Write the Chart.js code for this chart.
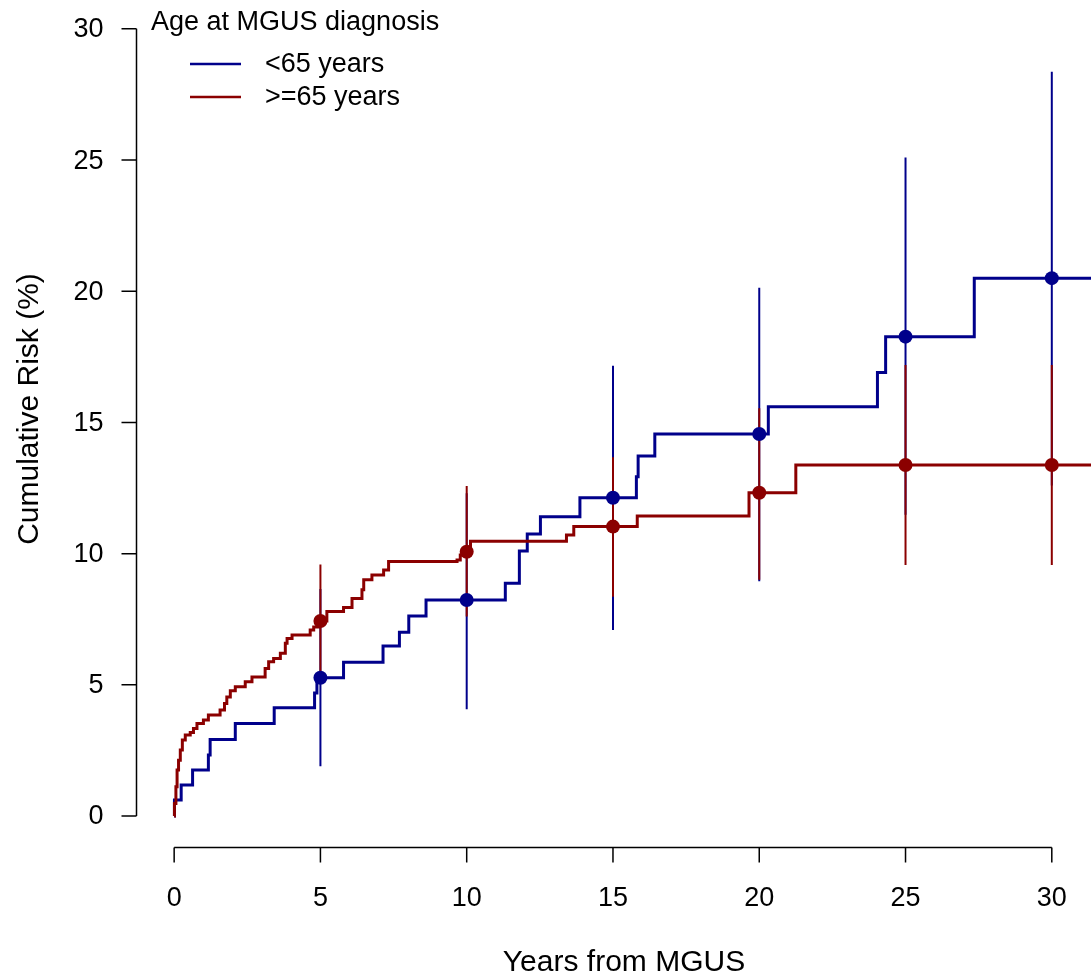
<!DOCTYPE html>
<html>
<head>
<meta charset="utf-8">
<script src="https://cdn.jsdelivr.net/npm/chart.js@4.4.0/dist/chart.umd.min.js"></script>
<style>
  html, body { margin: 0; padding: 0; background: #fff; }
  #wrap { width: 1091px; height: 978px; }
</style>
</head>
<body>
<div id="wrap"><canvas id="riskChart" width="1091" height="978"></canvas></div>
<script>
// cumulative risk curves
const stepYearsYoung = [0, 0.01, 0.24, 0.63, 1.17, 1.23, 2.09, 3.42, 4.80, 4.88,
    5.79, 7.14, 7.70, 8.02, 8.61, 11.32, 11.80, 12.07, 12.52, 13.87,
    15.80, 15.86, 16.43, 20.31, 24.04, 24.32, 27.35, 31.4];
const riskYoung = [0, 0.61, 1.18, 1.75, 2.33, 2.92, 3.53, 4.13, 4.69, 5.27,
    5.86, 6.48, 7.0, 7.62, 8.23, 8.87, 10.1, 10.75, 11.41, 12.13,
    12.93, 13.72, 14.56, 15.6, 16.9, 18.27, 20.5, 20.5];

const stepYearsOld = [0, 0.01, 0.06, 0.10, 0.15, 0.21, 0.28, 0.38, 0.55, 0.66,
    0.78, 1.0, 1.17, 1.57, 1.72, 1.80, 1.92, 2.09, 2.43, 2.66,
    3.11, 3.23, 3.40, 3.63, 3.80, 3.86, 4.03, 4.65, 4.77, 4.97,
    5.22, 5.79, 6.08, 6.42, 6.48, 6.76, 7.16, 7.33, 9.67, 9.78,
    9.98, 10.13, 13.41, 13.66, 15.83, 19.65, 21.25, 31.4];
const riskOld = [0, 0.48, 1.12, 1.75, 2.13, 2.52, 2.9, 3.09, 3.18, 3.34,
    3.53, 3.66, 3.85, 4.04, 4.29, 4.54, 4.77, 4.93, 5.12, 5.3,
    5.62, 5.88, 6.0, 6.2, 6.58, 6.77, 6.9, 7.09, 7.2, 7.43,
    7.79, 7.95, 8.29, 8.62, 9.0, 9.19, 9.38, 9.7, 9.76, 9.95,
    10.07, 10.47, 10.71, 11.03, 11.43, 12.32, 13.38, 13.38];

// estimates with confidence limits every 5 years
const ciYears = [5, 10, 15, 20, 25, 30];
const youngEst = [5.27, 8.23, 12.13, 14.56, 18.27, 20.5];
const youngLower = [1.9, 4.07, 7.09, 8.95, 11.48, 12.6];
const youngUpper = [8.65, 12.3, 17.16, 20.13, 25.1, 28.37];
const oldEst = [7.43, 10.07, 11.03, 12.32, 13.38, 13.38];
const oldLower = [5.4, 7.6, 8.36, 9.0, 9.57, 9.57];
const oldUpper = [9.59, 12.58, 13.67, 15.54, 17.19, 17.19];

const xTicks = [0, 5, 10, 15, 20, 25, 30];
const yTicks = [0, 5, 10, 15, 20, 25, 30];
const legendTitle = 'Age at MGUS diagnosis';
const groupLabels = ['<65 years', '>=65 years'];

const blue = '#00008B';
const red = '#8B0000';
const font = "'Liberation Sans', Arial, sans-serif";

const toPoints = (xs, ys) => xs.map((x, i) => ({ x: x, y: ys[i] }));
const toBars = (xs, lo, hi) => {
    const out = [];
    xs.forEach((x, i) => {
        out.push({ x: x, y: lo[i] }, { x: x, y: hi[i] }, { x: x, y: null });
    });
    return out;
};

// R-style axes + legend
const rAxes = {
    id: 'rAxes',
    afterDraw(chart) {
        const ctx = chart.ctx;
        const xs = chart.scales.x, ys = chart.scales.y;
        const left = Math.round(chart.chartArea.left) - 0.5;
        const bottom = Math.round(chart.chartArea.bottom) - 0.5;
        ctx.save();
        ctx.strokeStyle = '#000';
        ctx.fillStyle = '#000';
        ctx.lineWidth = 1.5;
        ctx.font = '27px ' + font;

        // y axis
        ctx.beginPath();
        ctx.moveTo(left, ys.getPixelForValue(yTicks[0]));
        ctx.lineTo(left, ys.getPixelForValue(yTicks[yTicks.length - 1]));
        yTicks.forEach(v => {
            const py = ys.getPixelForValue(v);
            ctx.moveTo(left, py);
            ctx.lineTo(left - 15, py);
        });
        ctx.stroke();
        ctx.textAlign = 'right';
        ctx.textBaseline = 'middle';
        yTicks.forEach(v => ctx.fillText(String(v), left - 33, ys.getPixelForValue(v) + 1));

        // x axis
        ctx.beginPath();
        ctx.moveTo(xs.getPixelForValue(xTicks[0]), bottom);
        ctx.lineTo(xs.getPixelForValue(xTicks[xTicks.length - 1]), bottom);
        xTicks.forEach(v => {
            const px = xs.getPixelForValue(v);
            ctx.moveTo(px, bottom);
            ctx.lineTo(px, bottom + 15);
        });
        ctx.stroke();
        ctx.textAlign = 'center';
        xTicks.forEach(v => ctx.fillText(String(v), xs.getPixelForValue(v), bottom + 51));

        // legend
        ctx.textAlign = 'left';
        ctx.fillText(legendTitle, 151, 23);
        [blue, red].forEach((c, i) => {
            const ly = 64 + i * 33;
            ctx.strokeStyle = c;
            ctx.lineWidth = 2.5;
            ctx.beginPath();
            ctx.moveTo(190, ly);
            ctx.lineTo(241, ly);
            ctx.stroke();
            ctx.fillText(groupLabels[i], 265, ly + 1);
        });

        // axis titles (a bit larger)
        ctx.font = '30px ' + font;
        ctx.textAlign = 'center';
        ctx.fillText('Years from MGUS', 624, 963);
        ctx.save();
        ctx.translate(30, 409);
        ctx.rotate(-Math.PI / 2);
        ctx.fillText('Cumulative Risk (%)', 0, 0);
        ctx.restore();
        ctx.restore();
    }
};

new Chart(document.getElementById('riskChart'), {
    type: 'scatter',
    data: {
        datasets: [
            {
                label: groupLabels[0],
                data: toPoints(stepYearsYoung, riskYoung),
                showLine: true, stepped: 'before',
                borderColor: blue, borderWidth: 3, pointRadius: 0,
                order: 6
            },
            {
                label: groupLabels[1],
                data: toPoints(stepYearsOld, riskOld),
                showLine: true, stepped: 'before',
                borderColor: red, borderWidth: 3, pointRadius: 0,
                order: 5
            },
            {
                label: 'ci young',
                data: toBars(ciYears, youngLower, youngUpper),
                showLine: true, spanGaps: false,
                borderColor: blue, borderWidth: 2, pointRadius: 0,
                order: 4
            },
            {
                label: 'ci old',
                data: toBars(ciYears, oldLower, oldUpper),
                showLine: true, spanGaps: false,
                borderColor: red, borderWidth: 2, pointRadius: 0,
                order: 3
            },
            {
                label: 'est young',
                data: toPoints(ciYears, youngEst),
                showLine: false,
                pointRadius: 7, pointBackgroundColor: blue, pointBorderWidth: 0,
                order: 2
            },
            {
                label: 'est old',
                data: toPoints(ciYears, oldEst),
                showLine: false,
                pointRadius: 7, pointBackgroundColor: red, pointBorderWidth: 0,
                order: 1
            }
        ]
    },
    options: {
        responsive: false,
        animation: false,
        devicePixelRatio: 1,
        layout: { autoPadding: false, padding: { left: 137, right: 0, top: 0, bottom: 130.5 } },
        plugins: { legend: { display: false }, tooltip: { enabled: false } },
        scales: {
            x: { type: 'linear', display: false, min: -1.27, max: 31.34 },
            y: { type: 'linear', display: false, min: -1.2, max: 31.1 }
        }
    },
    plugins: [rAxes]
});
</script>
</body>
</html>
